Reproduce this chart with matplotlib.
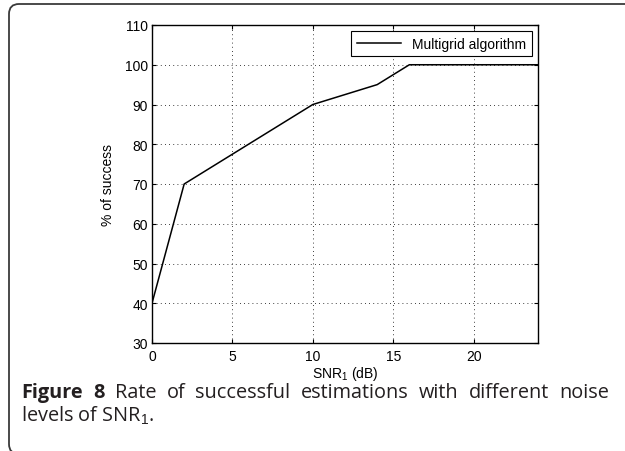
import matplotlib.pyplot as plt
from matplotlib.patches import FancyBboxPatch
from matplotlib.transforms import IdentityTransform

snr = [0, 2, 10, 14, 16, 24]
success = [40, 70, 90, 95, 100, 100]
x_ticks = [0, 5, 10, 15, 20]
y_ticks = [30, 40, 50, 60, 70, 80, 90, 100, 110]

caption_words = ['Figure', '8', 'Rate', 'of', 'successful', 'estimations', 'with',
                 'different', 'noise']
caption_line2 = 'levels of SNR$_1$.'

plt.rcParams['font.family'] = ['Liberation Sans', 'DejaVu Sans']
plt.rcParams['mathtext.fontset'] = 'custom'
plt.rcParams['mathtext.rm'] = 'Liberation Sans'

W, H = 625, 452
fig = plt.figure(figsize=(W / 100, H / 100), dpi=100)

# rounded panel frame (pixels); right and bottom sides fall outside the image
frame = FancyBboxPatch((9, -3), 1000, H - 2, boxstyle='round,pad=0,rounding_size=10',
                       transform=IdentityTransform(), fill=False,
                       edgecolor='#3a3a3a', linewidth=1.3)
fig.patches.append(frame)

ax = fig.add_axes([152 / W, 1 - 344 / H, 386 / W, 318 / H])
ax.plot(snr, success, color='black', linewidth=1.1, label='Multigrid algorithm')
ax.set_xlim(0, 24)
ax.set_ylim(30, 110)
ax.set_xticks(x_ticks)
ax.set_yticks(y_ticks)
ax.grid(True, linestyle=(0, (1, 4)), color='black', linewidth=0.6)
ax.tick_params(direction='in', top=True, right=True, labelsize=10, length=3)
ax.tick_params(axis='x', pad=4)
ax.tick_params(axis='y', pad=3)
for s in ax.spines.values():
    s.set_linewidth(1.0)
ax.set_xlabel('SNR$_1$ (dB)', fontsize=10, labelpad=1)
ax.set_ylabel('% of success', fontsize=10, labelpad=7)
leg = ax.legend(loc='upper right', fontsize=10, fancybox=False, framealpha=1,
                edgecolor='black', handlelength=3.2, borderaxespad=0.45)
leg.get_frame().set_linewidth(0.8)

# caption, first line justified between x0 and x1
cap_size = 14.3
cap_color = '#231f20'
x0, x1 = 21 / W, 609 / W
y1, y2 = 1 - 393 / H, 1 - 416 / H
renderer = fig.canvas.get_renderer()
texts = []
for i, w in enumerate(caption_words):
    t = fig.text(x0, y1, w, fontsize=cap_size, family='Open Sans', va='center',
                 color=cap_color, fontweight='bold' if i < 2 else 'normal')
    texts.append(t)
widths = [t.get_window_extent(renderer).width / W for t in texts]
gap = max((x1 - x0 - sum(widths)) / (len(texts) - 1), 3 / W)
x = x0
for t, w in zip(texts, widths):
    t.set_x(x)
    x += w + gap
fig.text(x0, y2, caption_line2, fontsize=cap_size, family='Open Sans', va='center',
         color=cap_color)

fig.savefig('out.png', dpi=100)
